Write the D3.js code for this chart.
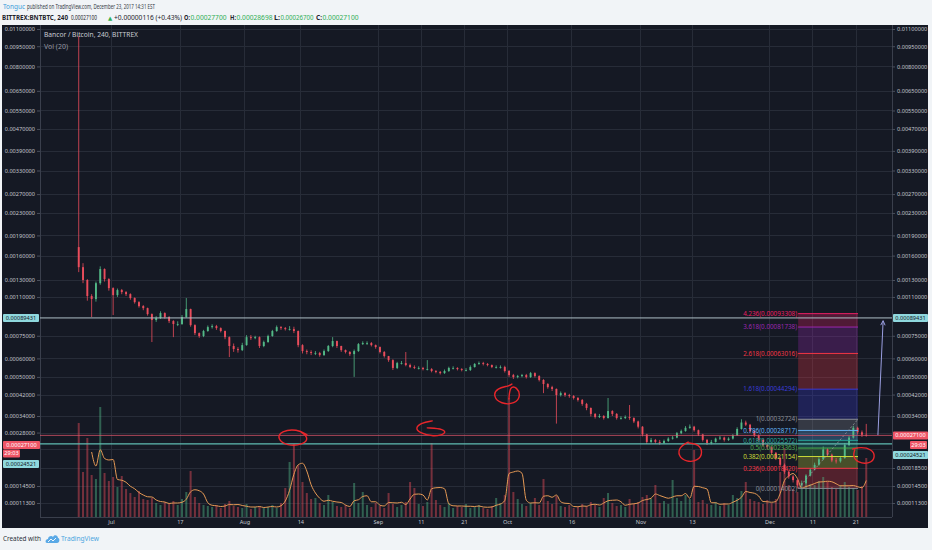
<!DOCTYPE html>
<html>
<head>
<meta charset="utf-8">
<script src="https://cdn.jsdelivr.net/npm/d3@7"></script>
<style>
html, body { margin: 0; padding: 0; background: #f1f4f7; }
svg { display: block; font-family: "Noto Sans", "DejaVu Sans", sans-serif; }
</style>
</head>
<body>
<svg id="chart" width="932" height="550"></svg>
<script>
// BNT/BTC, one candle per day, prices in satoshi (1e-8 BTC)
var startDay = "2017-06-23";
var firstOpen = 172000;
var closes = [
  145000,130000,111000,107700,126000,142700,131000,120000,112000,117700,
  115400,113100,108800,104500,100500,98500,92900,87600,89300,93800,
  90200,86700,84200,84200,90200,97600,83300,77000,74800,78600,
  81700,82500,80900,78600,74000,67800,65800,65100,68400,74000,
  73300,74000,67800,70500,74800,78600,81700,80900,80100,80100,
  78600,68400,64500,63900,63300,63300,62000,64500,67800,71200,
  67800,65100,63900,62600,64500,69100,69800,69800,68400,67100,
  63900,61400,59000,54600,57300,57300,56200,55100,54600,54600,
  54000,54000,53000,52500,51900,53000,54600,54600,54000,53500,
  53500,55100,56800,57300,56800,56200,55100,55100,55100,53000,
  50900,49900,50400,50900,49900,51900,50400,48500,46600,45200,
  44400,41800,42600,41800,41400,40600,39800,38300,36800,34700,
  33600,34000,33200,35700,34700,33200,33200,33600,33200,31900,
  30000,27400,25100,25700,25100,24800,25400,26100,26400,27800,
  28500,29600,30000,28800,27400,25700,24800,25100,26100,26400,
  25700,26100,27100,29200,31500,30700,28500,27100,25700,24200,
  23600,22100,20800,19200,17600,16500,15700,14600,15100,16700,
  18100,19200,20500,23000,21600,20200,20000,20800,24200,26400,
  29600,28100,27300,27100
];
var highs = [
  1036000,150000,131000,113000,128000,146000,143500,132000,121000,119500,
  119000,116500,114000,109500,105500,101500,99000,93500,91000,95500,
  94500,91000,87500,86500,92000,108800,98000,84000,77500,79500,
  83000,84000,83500,81500,79000,74500,69500,67000,70000,75500,
  75500,75000,74500,71500,75800,79500,83000,82500,81800,82500,
  82000,79000,69000,65500,65000,64500,64000,65500,68500,74000,
  71500,68000,65500,64500,65500,69800,71000,71000,70500,68800,
  67500,64500,61500,59500,58000,58500,63900,57000,56000,55500,
  55200,59000,54500,53500,53000,53800,55300,55500,55000,54500,
  54500,56000,57300,58200,58000,57300,56500,56000,56000,55800,
  53500,51500,51000,51500,51500,52500,52300,50800,48900,47000,
  45800,44600,43300,43000,42300,41800,41000,40200,38700,37000,
  35000,34700,34300,40600,36000,35000,33900,34200,37900,33500,
  32200,30200,27600,26300,26000,25700,25800,26500,26900,28200,
  29000,30200,30800,30300,29000,27600,26000,25700,26400,26900,
  26700,26500,27500,29800,32724,32200,31000,28800,27400,26000,
  24500,23900,22300,21000,19500,17800,16800,15900,15600,17000,
  18500,19700,21000,23800,23300,21900,20800,21200,24800,26900,
  30300,30000,28700,31000
];
var lows = [
  139000,126000,106000,90200,105000,124000,128000,117000,92000,110000,
  113000,111000,107000,103000,99000,96500,91500,70500,86000,88500,
  88800,85000,74000,82500,83500,89500,82000,75500,73500,74000,
  78000,80500,79500,77500,72500,60800,64000,63500,64500,68000,
  72000,72500,66500,67000,70000,74300,78000,79500,79000,79000,
  77000,67000,63000,62500,62000,62000,61000,61500,64000,67000,
  66500,64000,63000,61500,50000,64000,68500,68500,67500,66000,
  63000,60500,58000,53500,54000,56500,55500,54500,54000,53800,
  53300,53300,52300,51800,51200,51500,52500,53800,53300,52800,
  52800,53000,54800,56300,56000,55500,54500,54300,54300,52200,
  50000,49000,49300,49800,49200,49500,49700,47800,42600,44500,
  43500,31100,41200,41100,40700,40000,39200,37600,36000,33800,
  33000,33200,32600,33000,34000,32600,32600,32800,32500,31300,
  29400,26800,24500,24800,24600,24300,24500,25100,25800,26200,
  27500,28300,29300,28300,26900,25200,24200,24400,24900,25700,
  25200,25400,25800,26900,29000,30200,28000,26600,25200,23700,
  23000,21700,20300,18700,17100,16000,15200,14002,14200,14900,
  16500,17900,19000,20300,21100,19800,19500,19700,20600,23900,
  26100,27400,26600,26700
];
var volumes = [
  94,45,79,42,38,110,44,36,40,30,
  41,28,24,20,26,18,17,19,14,12,
  15,13,16,12,18,25,46,20,14,12,
  11,10,12,9,13,16,11,10,9,13,
  8,10,11,9,10,12,9,14,29,55,
  73,52,35,24,18,19,14,12,22,15,
  11,10,12,9,34,14,25,12,10,14,
  11,9,24,13,10,12,15,35,29,13,
  11,15,74,17,12,10,14,9,11,10,
  13,9,10,12,9,8,11,19,14,22,
  119,25,18,13,11,14,19,12,38,16,
  13,21,11,10,12,9,10,13,11,15,
  12,10,19,24,14,11,12,10,18,13,
  15,20,22,18,32,14,16,13,37,19,
  16,22,18,67,15,17,13,12,15,11,
  14,12,22,19,26,35,18,16,15,13,
  17,14,18,45,69,32,28,25,30,39,
  33,32,36,40,35,30,28,32,35,30,
  29,27,31,59
];

var priceTicks = [0.011, 0.0095, 0.008, 0.0065, 0.0055, 0.0047, 0.0039, 0.0033, 0.0027, 0.0023,
  0.0019, 0.0016, 0.0013, 0.0011, 0.00075, 0.0006, 0.0005, 0.00042, 0.00034, 0.00028,
  0.00023, 0.000185, 0.000145, 0.000113];
// tick labels that sit under the price tags
var hiddenLeft = [0.00023, 0.000185];
var hiddenRight = [0.00028, 0.00023];
var dateTicks = ["2017-07-01", "2017-07-17", "2017-08-01", "2017-08-14", "2017-09-01", "2017-09-11",
  "2017-09-21", "2017-10-01", "2017-10-16", "2017-11-01", "2017-11-13", "2017-12-01", "2017-12-11", "2017-12-21"];
var dateTickLabels = ["Jul", "17", "Aug", "14", "Sep", "11", "21", "Oct", "16", "Nov", "13", "Dec", "11", "21"];

var fibLevels = [4.236, 3.618, 2.618, 1.618, 1, 0.786, 0.618, 0.5, 0.382, 0.236, 0];
var fibLow = 0.00014002, fibHigh = 0.00032724;
var fibStart = "2017-12-07T16:00", fibEnd = "2017-12-21T14:00";

var lastPrice = 0.000271;
var levelLines = [0.00089431, 0.00024521];
var countdown = "29:03";

// hand drawn red marks and the blue arrow, in chart coordinates
var markDates = ["2017-08-12T07:00", "2017-09-13T10:00", "2017-10-01T00:00", "2017-11-12T14:00", "2017-12-22T22:00"];
var markPrices = [0.000263, 0.000289, 0.000418, 0.000223, 0.000213];
var arrowFrom = {date: "2017-12-26T05:00", price: 0.000272};
var arrowTo = {date: "2017-12-27T10:00", price: 0.00087};

// ---------------------------------------------------------------
var svg = d3.select("#chart");
var pane = {left: 40, right: 892, top: 25, bottom: 517};
var parseDay = d3.utcParse("%Y-%m-%d");
var parseTime = d3.utcParse("%Y-%m-%dT%H:%M");

var candles = closes.map(function(c, i) {
    return {
        date: d3.utcHour.offset(d3.utcDay.offset(parseDay(startDay), i), 12),
        open: (i === 0 ? firstOpen : closes[i - 1]) / 1e8,
        high: highs[i] / 1e8,
        low: lows[i] / 1e8,
        close: c / 1e8,
        volume: volumes[i]
    };
});

var x = d3.scaleUtc()
    .domain([parseDay("2017-07-01"), parseDay("2017-12-21")])
    .range([111, 855.5]);

// TradingView log axis, pinned at a few of its own tick positions
var y = d3.scaleLog()
    .domain([0.000113, 0.000145, 0.000185, 0.00034, 0.0013, 0.011])
    .range([503, 486, 468, 416, 280, 29]);

var yv = d3.scaleLinear().domain([0, 120]).range([pane.bottom, pane.bottom - 120]);

var fmt = d3.format(".8f");
var upCol = "#53b987", downCol = "#eb4d5c";

svg.append("rect").attr("width", 932).attr("height", 550).attr("fill", "#f1f4f7");
svg.append("rect").attr("x", 2).attr("y", 25).attr("width", 926).attr("height", 503).attr("fill", "#151924");

svg.append("clipPath").attr("id", "clip").append("rect")
    .attr("x", pane.left).attr("y", pane.top)
    .attr("width", pane.right - pane.left).attr("height", pane.bottom - pane.top);

// grid
var grid = svg.append("g").attr("stroke", "#272c38").attr("stroke-width", 1);
grid.selectAll(".gh").data(priceTicks).enter().append("line")
    .attr("x1", pane.left).attr("x2", pane.right)
    .attr("y1", function(d) { return Math.round(y(d)) + 0.5; })
    .attr("y2", function(d) { return Math.round(y(d)) + 0.5; });
grid.selectAll(".gv").data(dateTicks).enter().append("line")
    .attr("y1", pane.top).attr("y2", pane.bottom)
    .attr("x1", function(d) { return Math.round(x(parseDay(d))) + 0.5; })
    .attr("x2", function(d) { return Math.round(x(parseDay(d))) + 0.5; });

// pane frame
var frame = svg.append("g").attr("stroke", "#3a3f4c").attr("stroke-width", 1);
frame.append("line").attr("x1", pane.left + 0.5).attr("x2", pane.left + 0.5).attr("y1", pane.top).attr("y2", pane.bottom);
frame.append("line").attr("x1", pane.right + 0.5).attr("x2", pane.right + 0.5).attr("y1", pane.top).attr("y2", pane.bottom);
frame.append("line").attr("x1", pane.left).attr("x2", pane.right).attr("y1", pane.bottom + 0.5).attr("y2", pane.bottom + 0.5);

var plot = svg.append("g").attr("clip-path", "url(#clip)");

// fibonacci zones (drawn under the candles)
var fx0 = x(parseTime(fibStart)), fx1 = x(parseTime(fibEnd));
var fibColors = {"4.236": "#e91e63", "3.618": "#9c27b0", "2.618": "#f23645", "1.618": "#3b3bd6", "1": "#8a8d96",
    "0.786": "#64b5f6", "0.618": "#26a69a", "0.5": "#4caf50", "0.382": "#cddc39", "0.236": "#f23645", "0": "#8a8d96"};
var fibs = fibLevels.map(function(l) {
    return {level: l, price: fibLow + l * (fibHigh - fibLow), color: fibColors[String(l)]};
});
plot.append("g").selectAll("rect").data(fibs.slice(0, -1)).enter().append("rect")
    .attr("x", fx0).attr("width", fx1 - fx0)
    .attr("y", function(d) { return y(d.price); })
    .attr("height", function(d, i) { return y(fibs[i + 1].price) - y(d.price); })
    .attr("fill", function(d) { return d.color; })
    .attr("opacity", 0.28);

// volume
var bw = 2;
plot.append("g").selectAll("rect").data(candles).enter().append("rect")
    .attr("x", function(d) { return x(d.date) - bw / 2; })
    .attr("width", bw)
    .attr("y", function(d) { return yv(d.volume); })
    .attr("height", function(d) { return yv(0) - yv(d.volume); })
    .attr("fill", function(d) { return d.close >= d.open ? upCol : downCol; })
    .attr("opacity", 0.45);

// Vol(20) on 4h bars is about 3-4 days of daily bars
var maPeriod = 4;
var maData = candles.slice(maPeriod - 1).map(function(d, i) {
    return {date: d.date, v: d3.mean(candles.slice(i, i + maPeriod), function(c) { return c.volume; })};
});
plot.append("path").datum(maData)
    .attr("fill", "none").attr("stroke", "#e69a55").attr("stroke-width", 1)
    .attr("d", d3.line().curve(d3.curveMonotoneX)
        .x(function(d) { return x(d.date); })
        .y(function(d) { return yv(d.v); }));

// candles
var cw = 1.9;
var cg = plot.append("g").selectAll("g").data(candles).enter().append("g")
    .attr("fill", function(d) { return d.close >= d.open ? upCol : downCol; })
    .attr("stroke", function(d) { return d.close >= d.open ? upCol : downCol; });
cg.append("line")
    .attr("x1", function(d) { return x(d.date); }).attr("x2", function(d) { return x(d.date); })
    .attr("y1", function(d) { return y(d.high); }).attr("y2", function(d) { return y(d.low); })
    .attr("stroke-width", 0.8);
cg.append("rect")
    .attr("stroke", "none")
    .attr("x", function(d) { return x(d.date) - cw / 2; }).attr("width", cw)
    .attr("y", function(d) { return y(Math.max(d.open, d.close)); })
    .attr("height", function(d) { return Math.max(0.8, Math.abs(y(d.open) - y(d.close))); });

// horizontal lines
plot.append("line").attr("x1", pane.left).attr("x2", pane.right)
    .attr("y1", y(levelLines[0])).attr("y2", y(levelLines[0]))
    .attr("stroke", "#aebfc6").attr("stroke-width", 1);
plot.append("line").attr("x1", pane.left).attr("x2", pane.right)
    .attr("y1", y(levelLines[1])).attr("y2", y(levelLines[1]))
    .attr("stroke", "#5fbcb2").attr("stroke-width", 1.2);
plot.append("line").attr("x1", pane.left).attr("x2", pane.right)
    .attr("y1", y(lastPrice)).attr("y2", y(lastPrice))
    .attr("stroke", "#e0566a").attr("stroke-width", 1).attr("opacity", 0.75);

// fibonacci lines and labels
var fg = svg.append("g");
fg.selectAll("line").data(fibs).enter().append("line")
    .attr("x1", fx0).attr("x2", fx1)
    .attr("y1", function(d) { return y(d.price); }).attr("y2", function(d) { return y(d.price); })
    .attr("stroke", function(d) { return d.color; }).attr("stroke-width", 1);
fg.selectAll("text").data(fibs).enter().append("text")
    .attr("x", fx0 - 1).attr("y", function(d) { return y(d.price); })
    .attr("dy", "0.35em").attr("text-anchor", "end")
    .attr("font-size", "6.3px")
    .attr("fill", function(d) { return d.color; })
    .text(function(d) { return d.level + "(" + fmt(d.price) + ")"; });
fg.append("line")
    .attr("x1", fx0).attr("y1", y(fibLow)).attr("x2", fx1).attr("y2", y(fibHigh))
    .attr("stroke", "#9598a1").attr("stroke-width", 0.8).attr("stroke-dasharray", "2,2");

// axes
function styleAxis(hidden) {
    return function(g) {
        g.select(".domain").remove();
        g.selectAll(".tick line").attr("stroke", "#4a4f5c");
        g.selectAll(".tick text").attr("fill", "#c3c6cd").attr("font-size", "5.6px")
            .attr("font-family", "Noto Sans, sans-serif");
        g.selectAll(".tick").filter(function(d) { return hidden.indexOf(d) >= 0; }).remove();
    };
}
svg.append("g").attr("transform", "translate(" + pane.left + ",0)")
    .call(d3.axisLeft(y).tickValues(priceTicks).tickFormat(fmt).tickSize(3).tickPadding(2))
    .call(styleAxis(hiddenLeft));
svg.append("g").attr("transform", "translate(" + pane.right + ",0)")
    .call(d3.axisRight(y).tickValues(priceTicks).tickFormat(fmt).tickSize(3).tickPadding(2))
    .call(styleAxis(hiddenRight));
svg.append("g").attr("transform", "translate(0," + pane.bottom + ")")
    .call(d3.axisBottom(x).tickValues(dateTicks.map(parseDay))
        .tickFormat(function(d, i) { return dateTickLabels[i]; }).tickSize(0).tickPadding(3))
    .call(styleAxis([]));

// price tags on both axes
function tag(xPos, yPos, w, txt, bg, fg) {
    var g = svg.append("g");
    g.append("rect").attr("x", xPos).attr("y", yPos - 4).attr("width", w).attr("height", 8)
        .attr("fill", bg).attr("rx", 1);
    g.append("text").attr("x", xPos + w / 2).attr("y", yPos).attr("dy", "0.35em")
        .attr("text-anchor", "middle").attr("font-size", "5.6px").attr("fill", fg).text(txt);
}
var cyan = "#8fd8de", red = "#ef5566";
tag(3, y(levelLines[0]), 36, fmt(levelLines[0]), cyan, "#131722");
tag(893, y(levelLines[0]), 35, fmt(levelLines[0]), cyan, "#131722");
tag(3, y(lastPrice) + 9.5, 37, fmt(lastPrice), red, "#ffffff");
tag(3, y(lastPrice) + 18, 17, countdown, red, "#ffffff");
tag(3, y(levelLines[1]) + 20, 36, fmt(levelLines[1]), cyan, "#131722");
tag(893, y(lastPrice), 35, fmt(lastPrice), red, "#ffffff");
tag(910, y(lastPrice) + 9.5, 17, countdown, red, "#ffffff");
tag(893, y(levelLines[1]) + 11, 35, fmt(levelLines[1]), cyan, "#131722");

// arrow
var ax0 = x(parseTime(arrowFrom.date)), ay0 = y(arrowFrom.price);
var ax1 = x(parseTime(arrowTo.date)), ay1 = y(arrowTo.price);
var ang = Math.atan2(ay1 - ay0, ax1 - ax0);
var ag = svg.append("g").attr("stroke", "#9a9ee0").attr("stroke-width", 1).attr("fill", "none");
ag.append("line").attr("x1", ax0).attr("y1", ay0).attr("x2", ax1).attr("y2", ay1);
ag.append("path").attr("d",
    "M" + (ax1 - 5 * Math.cos(ang - 0.45)) + "," + (ay1 - 5 * Math.sin(ang - 0.45)) +
    "L" + ax1 + "," + ay1 +
    "L" + (ax1 - 5 * Math.cos(ang + 0.45)) + "," + (ay1 - 5 * Math.sin(ang + 0.45)));

// red hand drawn marks
var markShapes = [
    [[14, -3], [4, -9], [-12, -7], [-16, 1], [-6, 8], [10, 7], [16, 0], [8, -6]],
    [[1, -9], [-10, -7], [-16, -2], [-12, 3], [2, 7], [15, 4], [13, -1], [-4, -2]],
    [[5, -11], [2, -9], [-10, -7], [-14, 1], [-6, 9], [8, 9], [14, 1], [10, -8], [3, -9], [2, 4]],
    [[-2, -10], [-11, -5], [-12, 4], [-4, 10], [8, 9], [13, 0], [8, -8], [-1, -9]],
    [[-11, -7], [-3, -9], [8, -7], [12, 1], [6, 8], [-6, 7], [-11, 0], [-9, -6]]
];
var scribble = d3.line().curve(d3.curveBasis);
svg.append("g").selectAll("path").data(markDates).enter().append("path")
    .attr("transform", function(d, i) {
        return "translate(" + x(parseTime(d)) + "," + y(markPrices[i]) + ")";
    })
    .attr("d", function(d, i) { return scribble(markShapes[i]); })
    .attr("fill", "none").attr("stroke", "#e8262b").attr("stroke-width", 1.4)
    .attr("stroke-linecap", "round");

// chart titles
svg.append("text").attr("x", 44).attr("y", 35).attr("dy", "0.35em")
    .attr("font-size", "6.6px").attr("fill", "#c9ccd3")
    .attr("textLength", 94).attr("lengthAdjust", "spacingAndGlyphs")
    .text("Bancor / Bitcoin, 240, BITTREX");
svg.append("text").attr("x", 44).attr("y", 47).attr("dy", "0.35em")
    .attr("font-size", "6.6px").attr("fill", "#9598a1")
    .attr("textLength", 24).attr("lengthAdjust", "spacingAndGlyphs")
    .text("Vol (20)");

// header: each line is one text element, pieces placed as tspans
function headerLine(yPos, pieces) {
    var t = svg.append("text").attr("y", yPos).attr("dy", "0.35em").attr("font-size", "6.8px");
    pieces.forEach(function(p) {
        var s = t.append("tspan").attr("x", p.x).attr("fill", p.color)
            .attr("font-weight", p.bold ? "bold" : "normal").text(p.text);
        if (p.w) s.attr("textLength", p.w).attr("lengthAdjust", "spacingAndGlyphs");
        if (p.font) s.attr("font-family", p.font).attr("font-size", "5.5px");
    });
}
var green = "#2fae55", ink = "#1e232b";
headerLine(6.5, [
    {x: 3, w: 22, text: "Tonguc", color: "#3a9bd9"},
    {x: 27, w: 128, text: "published on TradingView.com, December 23, 2017 14:31 EST", color: "#333a44"}
]);
headerLine(17.5, [
    {x: 2, w: 66, text: "BITTREX:BNTBTC, 240", color: ink, bold: true},
    {x: 71, w: 26, text: "0.00027100", color: ink},
    {x: 108, text: "\u25B2", color: green, font: "DejaVu Sans"},
    {x: 114, w: 68, text: "+0.00000116 (+0.43%)", color: ink},
    {x: 184, w: 6, text: "O:", color: ink, bold: true},
    {x: 190.5, w: 36, text: "0.00027700", color: green},
    {x: 230, w: 6, text: "H:", color: ink, bold: true},
    {x: 236.5, w: 36, text: "0.00028698", color: green},
    {x: 274, w: 6, text: "L:", color: ink, bold: true},
    {x: 280.5, w: 33, text: "0.00026700", color: green},
    {x: 316, w: 6, text: "C:", color: ink, bold: true},
    {x: 322.5, w: 36, text: "0.00027100", color: green}
]);

// footer
headerLine(539, [
    {x: 3, w: 38, text: "Created with", color: "#2a2f38"},
    {x: 61, w: 38, text: "TradingView", color: "#4aa5e0"}
]);
var logo = svg.append("g").attr("transform", "translate(46,534)");
logo.append("path").attr("d", "M1,9 C-1,9 -1,5 2,5 C2,2 6,1 7,3 C8,0 12,1 12,4 C14,4 14,9 11,9 Z")
    .attr("fill", "#5aa9e6");
logo.append("path").attr("d", "M2,8 L5,5 L7,7 L10,4").attr("fill", "none")
    .attr("stroke", "#ffffff").attr("stroke-width", 0.9);
</script>
</body>
</html>
